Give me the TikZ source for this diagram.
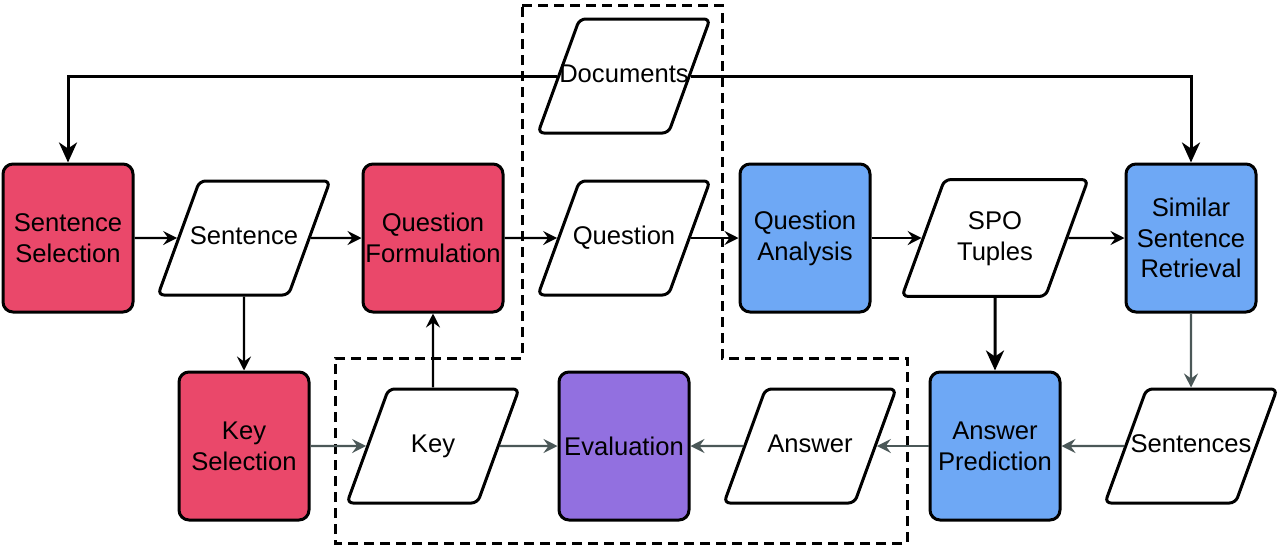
\documentclass[tikz,border=0pt]{standalone}
\usepackage{fontspec}
\setmainfont{Liberation Sans}
\usepackage{xcolor}
\usetikzlibrary{arrows.meta,shapes.geometric,calc}
\definecolor{procred}{RGB}{234,72,106}
\definecolor{procblue}{RGB}{110,168,245}
\definecolor{procpurple}{RGB}{146,112,224}
\definecolor{flowgray}{RGB}{75,88,88}

\begin{document}
\begin{tikzpicture}[x=0.5pt,y=-0.5pt,
    every node/.style={font=\fontsize{12.8}{15.4}\selectfont, align=center, inner sep=1pt},
    proc/.style={draw, line width=1.5pt, rounded corners=5pt, minimum width=65pt, minimum height=74pt},
    data/.style={draw, fill=white, line width=1.5pt, rounded corners=3pt, trapezium, trapezium stretches body=true,
        trapezium left angle=70, trapezium right angle=110, minimum width=86pt, inner xsep=-30pt, inner ysep=22.5pt,
        text height=9.3pt, text depth=2.7pt},
    flow/.style={-{Stealth[length=7pt,width=7pt,inset=2.5pt]}, line width=1.1pt},
    flowg/.style={flow, flowgray},
    bigflow/.style={-{Stealth[length=10pt,width=9pt,inset=3pt]}, line width=1.5pt}]
    \useasboundingbox (0,0) rectangle (1282,547);
    \draw[line width=1.5pt, dash pattern=on 5pt off 3pt] (522,5) -- (722,5) -- (722,358) -- (907,358)
        -- (907,543) -- (335,543) -- (335,358) -- (522,358) -- cycle;
    \node[proc, fill=procred] (sentsel) at (68,238) {Sentence\\Selection};
    \node[data] (sent) at (244,238) {Sentence};
    \node[proc, fill=procred, minimum width=70pt] (qform) at (433,238) {Question\\Formulation};
    \node[data] (quest) at (624,238) {Question};
    \node[data] (docs) at (624,76) {Documents};
    \node[proc, fill=procblue] (qana) at (805,238) {Question\\Analysis};
    \node[data, minimum width=93pt, text height=24.7pt, inner ysep=15.5pt] (spo) at (995,238) {SPO\\Tuples};
    \node[proc, fill=procblue] (simret) at (1191,238) {Similar\\Sentence\\Retrieval};
    \node[proc, fill=procred] (keysel) at (244,446) {Key\\Selection};
    \node[data] (key) at (433,446) {Key};
    \node[proc, fill=procpurple] (evalu) at (624,446) {Evaluation};
    \node[data] (answer) at (810,446) {Answer};
    \node[proc, fill=procblue] (ansp) at (995,446) {Answer\\Prediction};
    \node[data] (sents) at (1191,446) {Sentences};
    \draw[bigflow] (docs.west) -| (sentsel.north);
    \draw[bigflow] (docs.east) -| (simret.north);
    \draw[flow] (sentsel) -- (sent);
    \draw[flow] (sent) -- (qform);
    \draw[flow] (qform) -- (quest);
    \draw[flow] (quest) -- (qana);
    \draw[flow] (qana) -- (spo);
    \draw[flow] (spo) -- (simret);
    \draw[flow] (sent.south) -- (keysel.north);
    \draw[flow] (key.north) -- (qform.south);
    \draw[bigflow] (spo.south) -- (ansp.north);
    \draw[flowg] (simret.south) -- (sents.north);
    \draw[flowg] (sents) -- (ansp);
    \draw[flowg] (ansp) -- (answer);
    \draw[flowg] (answer) -- (evalu);
    \draw[flowg] (keysel) -- (key);
    \draw[flowg] (key) -- (evalu);
\end{tikzpicture}
\end{document}
